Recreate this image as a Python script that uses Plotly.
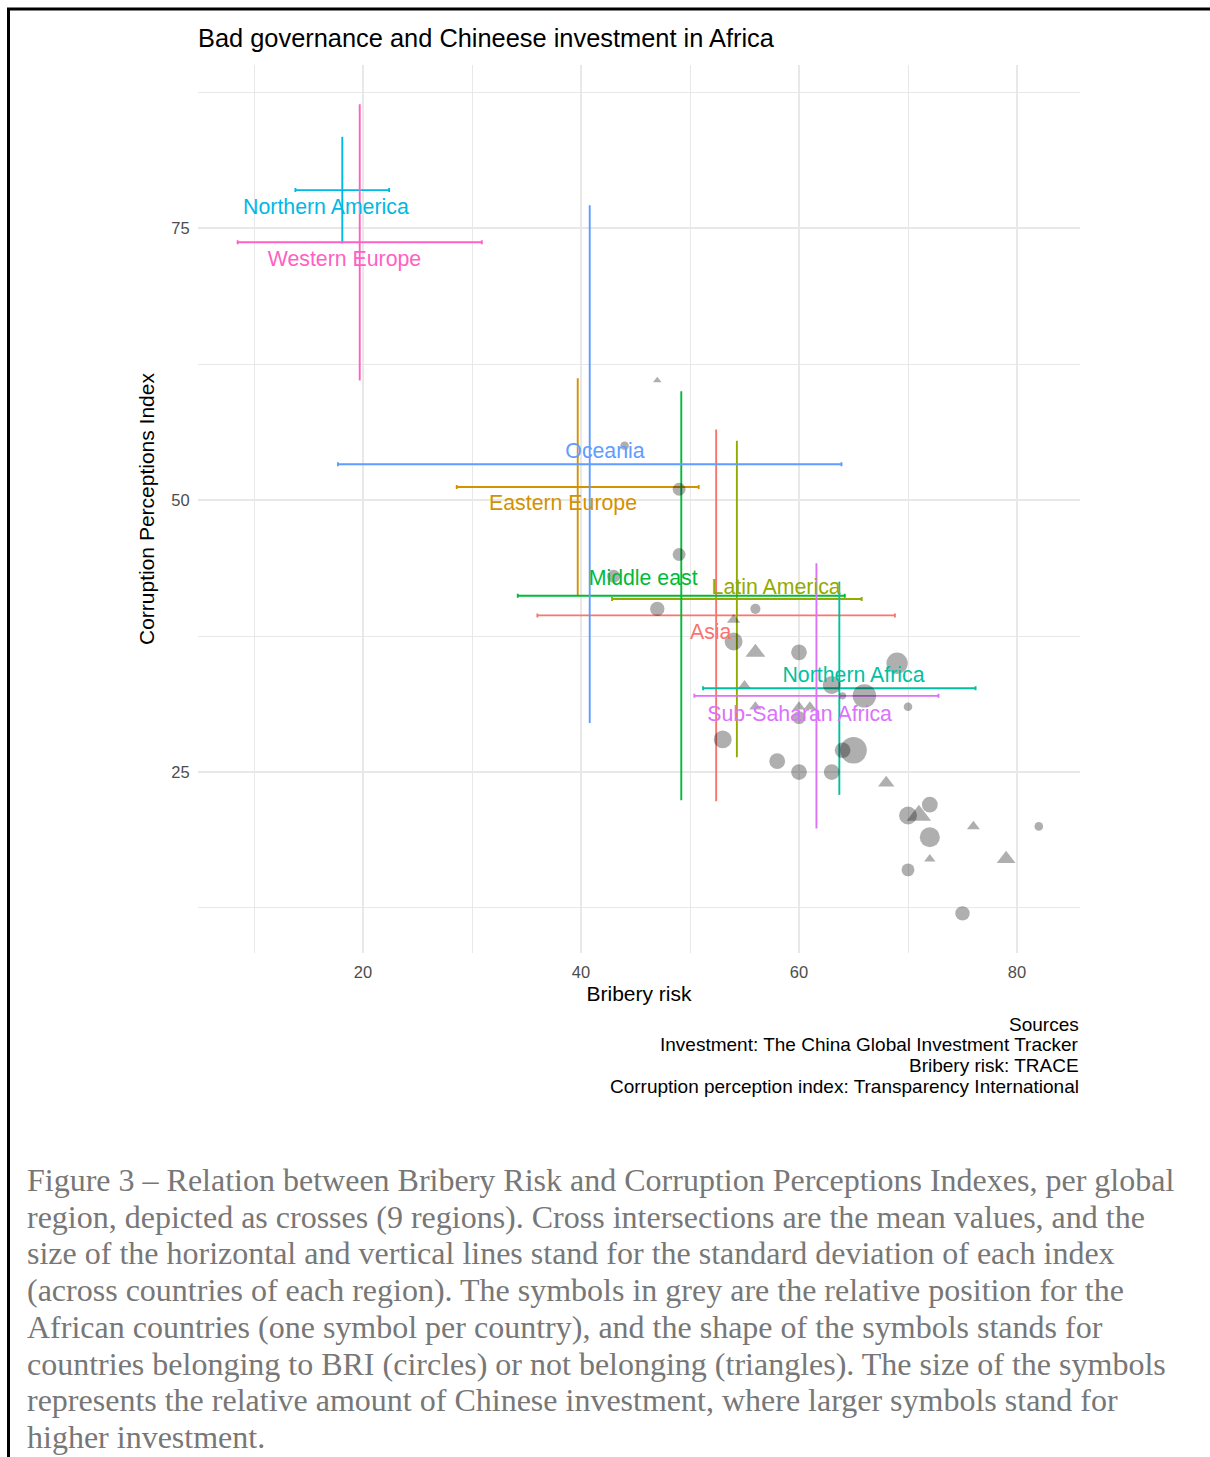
import numpy as np
import plotly.graph_objects as go

# ---------------- data ----------------
regions = ["Asia", "Eastern Europe", "Latin America", "Middle east", "Northern Africa",
           "Northern America", "Oceania", "Sub-Saharan Africa", "Western Europe"]
bribery_mean = [52.4, 39.7, 54.3, 49.2, 63.7, 18.1, 40.8, 61.6, 19.7]
bribery_sd = [16.4, 11.1, 11.45, 15.0, 12.5, 4.3, 23.1, 11.2, 11.2]
cpi_mean = [39.4, 51.2, 40.9, 41.2, 32.7, 78.5, 53.3, 32.0, 73.7]
cpi_sd = [17.1, 10.0, 14.55, 18.8, 9.8, 4.9, 23.8, 12.2, 12.7]

# African countries, BRI members (circles)
bri_bribery = [44, 49, 49, 43, 47, 56, 54, 60, 69, 63, 64, 66, 70, 60, 53, 64, 65, 58, 60, 63, 72, 70, 82, 72, 70, 75]
bri_cpi = [55, 51, 45, 43, 40, 40, 37, 36, 35, 33, 32, 32, 31, 30, 28, 27, 27, 26, 25, 25, 22, 21, 20, 19, 16, 12]
bri_invest = [6, 20, 20, 20, 27, 10, 47, 34, 72, 47, 3, 90, 6, 20, 47, 34, 121, 34, 34, 34, 34, 47, 6, 62, 20, 27]

# African countries, non-BRI (triangles)
non_bribery = [47, 54, 56, 55, 56, 60, 61, 68, 71, 76, 72, 79]
non_cpi = [61, 39, 36, 33, 31, 31, 31, 24, 21, 20, 17, 17]
non_invest = [2, 10, 30, 6, 8, 8, 8, 18, 51, 9, 6, 26]

x_ticks = [20, 40, 60, 80]
y_ticks = [25, 50, 75]

title_text = "Bad governance and Chineese investment in Africa"
x_title = "Bribery risk"
y_title = "Corruption Perceptions Index"
sources = ["Sources",
           "Investment: The China Global Investment Tracker",
           "Bribery risk: TRACE",
           "Corruption perception index: Transparency International"]
caption = [
    "Figure 3 \u2013 Relation between Bribery Risk and Corruption Perceptions Indexes, per global",
    "region, depicted as crosses (9 regions). Cross intersections are the mean values, and the",
    "size of the horizontal and vertical lines stand for the standard deviation of each index",
    "(across countries of each region). The symbols in grey are the relative position for the",
    "African countries (one symbol per country), and the shape of the symbols stands for",
    "countries belonging to BRI (circles) or not belonging (triangles). The size of the symbols",
    "represents the relative amount of Chinese investment, where larger symbols stand for",
    "higher investment.",
]

# ---------------- styles / layout ----------------
colors = {"Asia": "#F8766D", "Eastern Europe": "#D39200", "Latin America": "#93AA00",
          "Middle east": "#00BA38", "Northern Africa": "#00C19F", "Northern America": "#00B9E3",
          "Oceania": "#619CFF", "Sub-Saharan Africa": "#DB72FB", "Western Europe": "#FF61C3"}
label_offset = {"Asia": (-0.5, -1.7), "Eastern Europe": (-1.35, -1.6), "Latin America": (3.6, 0.95),
                "Middle east": (-3.5, 1.45), "Northern Africa": (1.3, 1.1), "Northern America": (-1.5, -1.7),
                "Oceania": (1.4, 1.05), "Sub-Saharan Africa": (-1.55, -1.85), "Western Europe": (-1.4, -1.7)}

W, H = 1210, 1457
PL, PR, PT, PB = 198, 1080, 65, 953  # panel pixel box
SANS = "Liberation Sans, Arial, Helvetica, sans-serif"
SERIF = "Liberation Serif, Times New Roman, serif"
TRI_SCALE = 1.15


def px_x(px):
    return (px - PL) / (PR - PL)


def px_y(py):
    return (PB - py) / (PB - PT)


def msize(v):
    return 3.5 + 2.1 * np.sqrt(np.asarray(v, dtype=float))


fig = go.Figure()

for i, r in enumerate(regions):
    c = colors[r]
    fig.add_trace(go.Scatter(
        x=[bribery_mean[i]], y=[cpi_mean[i]], mode="markers",
        marker=dict(size=1, opacity=0),
        error_x=dict(type="data", array=[bribery_sd[i]], color=c, thickness=1.9, width=2),
        error_y=dict(type="data", array=[cpi_sd[i]], color=c, thickness=1.9, width=0),
        showlegend=False, hoverinfo="skip"))

fig.add_trace(go.Scatter(
    x=bri_bribery, y=bri_cpi, mode="markers",
    marker=dict(symbol="circle", size=msize(bri_invest), color="rgba(0,0,0,0.45)", line=dict(width=0)),
    showlegend=False))
fig.add_trace(go.Scatter(
    x=non_bribery, y=non_cpi, mode="markers",
    marker=dict(symbol="triangle-up", size=msize(non_invest) * TRI_SCALE, color="rgba(0,0,0,0.45)",
                line=dict(width=0)),
    showlegend=False))

fig.add_trace(go.Scatter(
    x=[bribery_mean[i] + label_offset[r][0] for i, r in enumerate(regions)],
    y=[cpi_mean[i] + label_offset[r][1] for i, r in enumerate(regions)],
    mode="text", text=regions, textposition="middle center",
    textfont=dict(family=SANS, size=21.3, color=[colors[r] for r in regions]),
    showlegend=False, hoverinfo="skip"))

grid = "#E8E8E8"
fig.update_layout(
    width=W, height=H,
    margin=dict(l=PL, r=W - PR, t=PT, b=H - PB, pad=0),
    paper_bgcolor="white", plot_bgcolor="white",
    showlegend=False,
    font=dict(family=SANS),
    title=dict(text=title_text, x=PL / W, xanchor="left", xref="container",
               y=1 - 38 / H, yanchor="middle", yref="container",
               font=dict(family=SANS, size=25.4, color="black")),
    xaxis=dict(range=[4.862, 85.78], tickvals=x_ticks, showgrid=True, gridcolor=grid, gridwidth=1.5,
               minor=dict(dtick=10, tick0=0, showgrid=True, gridcolor=grid, gridwidth=1.2),
               zeroline=False, showline=False, ticks="outside", ticklen=4, tickcolor="rgba(0,0,0,0)",
               tickfont=dict(family=SANS, size=16.5, color="#4D4D4D"),
               title=dict(text=x_title, font=dict(family=SANS, size=21, color="black"), standoff=6)),
    yaxis=dict(range=[8.36, 90.0], tickvals=y_ticks, showgrid=True, gridcolor=grid, gridwidth=1.5,
               minor=dict(dtick=12.5, tick0=0, showgrid=True, gridcolor=grid, gridwidth=1.2),
               zeroline=False, showline=False, ticks="outside", ticklen=4, tickcolor="rgba(0,0,0,0)",
               tickfont=dict(family=SANS, size=16.5, color="#4D4D4D"),
               title=dict(text=y_title, font=dict(family=SANS, size=21, color="black"), standoff=10)),
)

src_y = [1024, 1044, 1065, 1086]
for t, yy in zip(sources, src_y):
    fig.add_annotation(text=t, xref="paper", yref="paper", x=px_x(1081), y=px_y(yy),
                       xanchor="right", yanchor="middle", showarrow=False,
                       font=dict(family=SANS, size=19, color="black"))

cap_y = [1180, 1216.5, 1253, 1290, 1327, 1363.5, 1400, 1437]
for t, yy in zip(caption, cap_y):
    fig.add_annotation(text=t, xref="paper", yref="paper", x=px_x(25), y=px_y(yy),
                       xanchor="left", yanchor="middle", showarrow=False,
                       font=dict(family=SERIF, size=32, color="#777777"))

# frame
fig.add_shape(type="line", xref="paper", yref="paper", x0=px_x(7), x1=px_x(1215), y0=px_y(9), y1=px_y(9),
              line=dict(color="black", width=3))
fig.add_shape(type="line", xref="paper", yref="paper", x0=px_x(8.5), x1=px_x(8.5), y0=px_y(8), y1=px_y(1465),
              line=dict(color="black", width=3))

fig.write_html("out.html", post_script="document.body.style.margin='0px';",
               config={"displayModeBar": False})
